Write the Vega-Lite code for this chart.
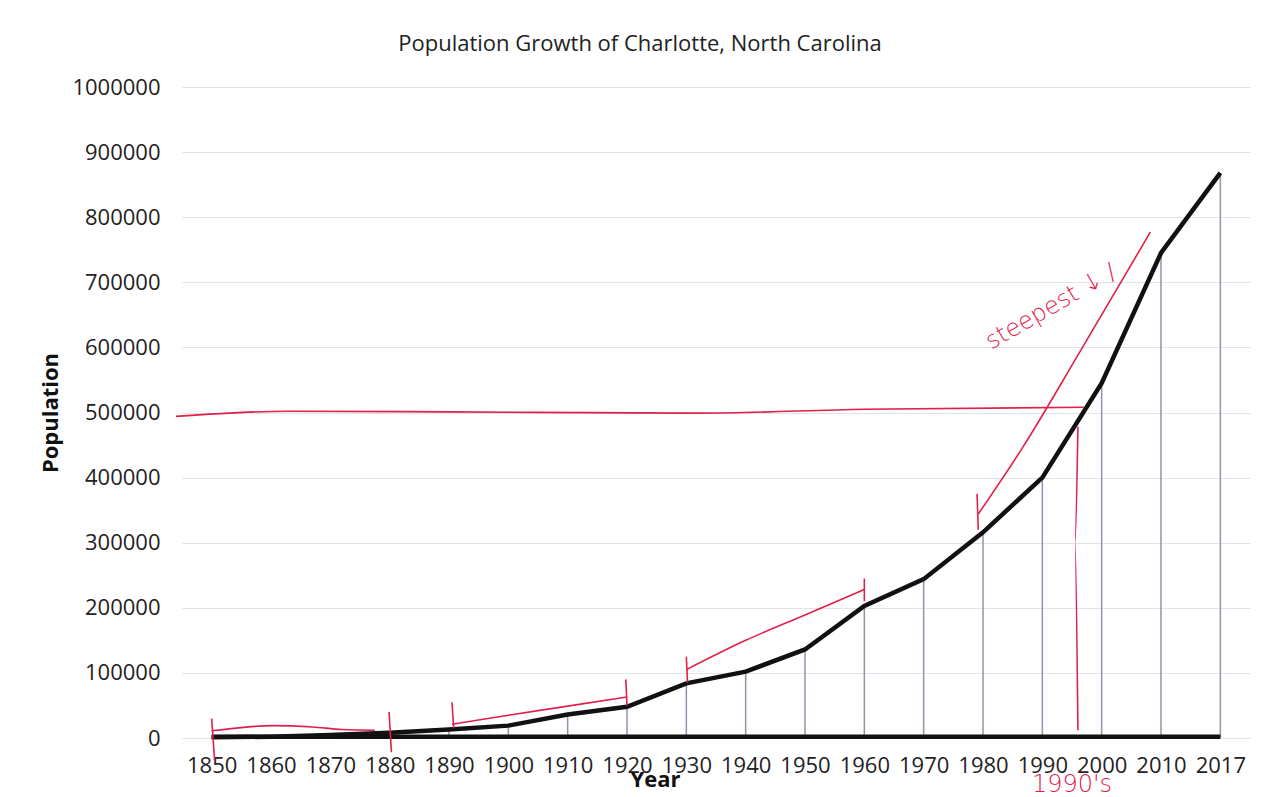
{
  "$schema": "https://vega.github.io/schema/vega-lite/v6.json",
  "autosize": {"type": "none"},
  "width": 1068,
  "height": 651,
  "padding": {"left": 182, "top": 87, "right": 16, "bottom": 59},
  "background": "white",
  "config": {
    "view": {"stroke": null},
    "font": "Open Sans",
    "axis": {"labelFont": "Open Sans", "titleFont": "Open Sans"}
  },
  "title": {
    "text": "Population Growth of Charlotte, North Carolina",
    "font": "Open Sans",
    "fontSize": 22,
    "fontWeight": 500,
    "color": "#222",
    "anchor": "middle",
    "frame": "group",
    "dx": -76,
    "baseline": "alphabetic",
    "offset": 3
  },
  "datasets": {
    "pop": [
      {"Year": "1850", "Population": 1000, "YearValue": 1850},
      {"Year": "1860", "Population": 2000, "YearValue": 1860},
      {"Year": "1870", "Population": 4500, "YearValue": 1870},
      {"Year": "1880", "Population": 8000, "YearValue": 1880},
      {"Year": "1890", "Population": 13000, "YearValue": 1890},
      {"Year": "1900", "Population": 19000, "YearValue": 1900},
      {"Year": "1910", "Population": 36000, "YearValue": 1910},
      {"Year": "1920", "Population": 48000, "YearValue": 1920},
      {"Year": "1930", "Population": 84000, "YearValue": 1930},
      {"Year": "1940", "Population": 102000, "YearValue": 1940},
      {"Year": "1950", "Population": 136000, "YearValue": 1950},
      {"Year": "1960", "Population": 203000, "YearValue": 1960},
      {"Year": "1970", "Population": 244000, "YearValue": 1970},
      {"Year": "1980", "Population": 316000, "YearValue": 1980},
      {"Year": "1990", "Population": 400000, "YearValue": 1990},
      {"Year": "2000", "Population": 545000, "YearValue": 2000},
      {"Year": "2010", "Population": 745000, "YearValue": 2010},
      {"Year": "2017", "Population": 868000, "YearValue": 2017}
    ],
    "ink": [
      {"stroke": "a", "order": 1, "i": 0, "v": 11000},
      {"stroke": "a", "order": 2, "i": 0.5, "v": 16000},
      {"stroke": "a", "order": 3, "i": 1, "v": 19000},
      {"stroke": "a", "order": 4, "i": 1.7, "v": 17000},
      {"stroke": "a", "order": 5, "i": 2.2, "v": 13000},
      {"stroke": "a", "order": 6, "i": 2.75, "v": 12000},
      {"stroke": "b", "order": 1, "i": 4.05, "v": 21000},
      {"stroke": "b", "order": 2, "i": 5, "v": 35000},
      {"stroke": "b", "order": 3, "i": 6, "v": 49000},
      {"stroke": "b", "order": 4, "i": 7, "v": 63000},
      {"stroke": "c", "order": 1, "i": 8.0, "v": 105000},
      {"stroke": "c", "order": 2, "i": 9, "v": 150000},
      {"stroke": "c", "order": 3, "i": 10, "v": 189000},
      {"stroke": "c", "order": 4, "i": 11, "v": 228000},
      {"stroke": "d", "order": 1, "i": 12.92, "v": 344000},
      {"stroke": "d", "order": 2, "i": 13.68, "v": 448000},
      {"stroke": "d", "order": 3, "i": 14.6, "v": 588000},
      {"stroke": "d", "order": 4, "i": 15.82, "v": 777000},
      {"stroke": "h", "order": 1, "i": -0.6, "v": 494000},
      {"stroke": "h", "order": 2, "i": 1.3, "v": 502000},
      {"stroke": "h", "order": 3, "i": 4, "v": 501000},
      {"stroke": "h", "order": 4, "i": 8.2, "v": 499000},
      {"stroke": "h", "order": 5, "i": 11, "v": 505000},
      {"stroke": "h", "order": 6, "i": 14.7, "v": 508000},
      {"stroke": "vl", "order": 1, "i": 14.6, "v": 478000},
      {"stroke": "vl", "order": 2, "i": 14.55, "v": 300000},
      {"stroke": "vl", "order": 3, "i": 14.6, "v": 12000},
      {"stroke": "t1", "order": 1, "i": 0.0, "v": 30000},
      {"stroke": "t1", "order": 2, "i": 0.05, "v": -35000},
      {"stroke": "t2", "order": 1, "i": 2.99, "v": 40000},
      {"stroke": "t2", "order": 2, "i": 3.03, "v": -22000},
      {"stroke": "t3", "order": 1, "i": 4.05, "v": 55000},
      {"stroke": "t3", "order": 2, "i": 4.08, "v": 15000},
      {"stroke": "t4", "order": 1, "i": 6.98, "v": 90000},
      {"stroke": "t4", "order": 2, "i": 7.0, "v": 50000},
      {"stroke": "t5", "order": 1, "i": 8.0, "v": 125000},
      {"stroke": "t5", "order": 2, "i": 8.02, "v": 85000},
      {"stroke": "t6", "order": 1, "i": 11.0, "v": 245000},
      {"stroke": "t6", "order": 2, "i": 11.0, "v": 210000},
      {"stroke": "t7", "order": 1, "i": 12.9, "v": 375000},
      {"stroke": "t7", "order": 2, "i": 12.92, "v": 320000}
    ],
    "notes": [
      {"label": "steepest ↓ /", "i": 14.15, "v": 662000, "angle": -30},
      {"label": "1990's", "i": 14.5, "v": -72000, "angle": 0}
    ]
  },
  "layer": [
    {
      "data": {"name": "pop"},
      "encoding": {
        "x": {
          "field": "Year",
          "type": "ordinal",
          "sort": null,
          "scale": {"type": "point", "padding": 0.5},
          "axis": {
            "title": "Year",
            "titleFontSize": 22,
            "titleFontWeight": "bold",
            "titleColor": "#111",
            "titleX": 473,
            "titleY": 48,
            "titleBaseline": "alphabetic",
            "labelAngle": 0,
            "labelFontSize": 22,
            "labelColor": "#222",
            "labelPadding": 17,
            "domain": false,
            "ticks": false,
            "grid": false
          }
        }
      },
      "layer": [
        {
          "mark": {"type": "rule", "color": "#8e96a8", "strokeWidth": 1.5},
          "encoding": {
            "y": {
              "field": "Population",
              "type": "quantitative",
              "scale": {"domain": [0, 1000000]},
              "axis": {
                "title": "Population",
                "titleFontSize": 22,
                "titleFontWeight": "bold",
                "titleColor": "#111",
                "titleX": -132,
                "titleBaseline": "middle",
                "values": [0, 100000, 200000, 300000, 400000, 500000, 600000, 700000, 800000, 900000, 1000000],
                "format": "d",
                "labelFontSize": 22,
                "labelColor": "#222",
                "labelPadding": 22,
                "domain": false,
                "ticks": false,
                "grid": true,
                "gridColor": "#dfe3ea",
                "gridWidth": 1
              }
            },
            "y2": {"datum": 0}
          }
        },
        {
          "mark": {"type": "line", "color": "#111", "strokeWidth": 4.5},
          "encoding": {
            "y": {"field": "YearValue", "type": "quantitative", "scale": {"domain": [0, 1000000]}}
          }
        },
        {
          "mark": {"type": "line", "color": "#111", "strokeWidth": 4.5},
          "encoding": {
            "y": {"field": "Population", "type": "quantitative", "scale": {"domain": [0, 1000000]}}
          }
        }
      ]
    },
    {
      "layer": [
        {
          "data": {"name": "ink"},
          "mark": {"type": "line", "color": "#e0204a", "strokeWidth": 1.6, "interpolate": "monotone"},
          "encoding": {
            "x": {"field": "i", "type": "quantitative", "scale": {"domain": [-0.5, 17.5], "nice": false, "zero": false}, "axis": null},
            "y": {"field": "v", "type": "quantitative", "scale": {"domain": [0, 1000000]}},
            "detail": {"field": "stroke"},
            "order": {"field": "order"}
          }
        },
        {
          "data": {"name": "notes"},
          "mark": {"type": "text", "color": "#e0204a", "fontSize": 24, "font": "DejaVu Sans", "fontWeight": 300},
          "encoding": {
            "x": {"field": "i", "type": "quantitative", "scale": {"domain": [-0.5, 17.5], "nice": false, "zero": false}, "axis": null},
            "y": {"field": "v", "type": "quantitative", "scale": {"domain": [0, 1000000]}},
            "text": {"field": "label"},
            "angle": {"field": "angle", "type": "quantitative", "scale": null}
          }
        }
      ]
    }
  ],
  "resolve": {"scale": {"x": "independent"}, "axis": {"x": "independent"}}
}
